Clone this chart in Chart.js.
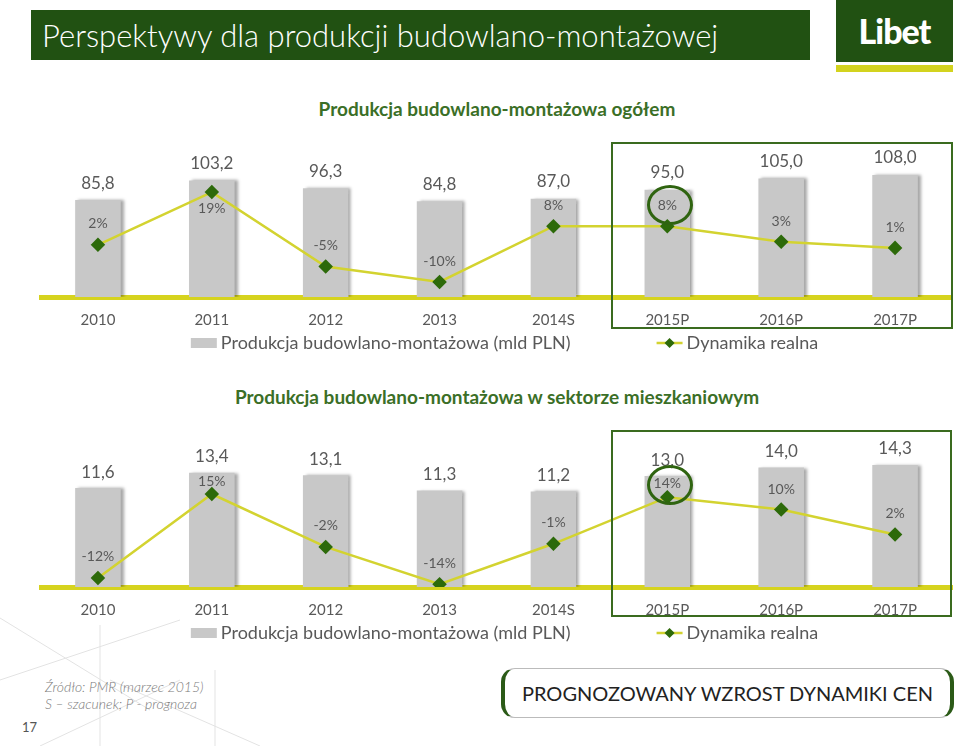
<!DOCTYPE html>
<html>
<head>
<meta charset="utf-8">
<script src="https://cdn.jsdelivr.net/npm/chart.js@4/dist/chart.umd.min.js"></script>
<style>
  body { margin: 0; width: 960px; height: 746px; position: relative; background: #fff; font-family: Lato, sans-serif; overflow: hidden; }
  .abs { position: absolute; }
  #header { left: 31px; top: 10px; width: 779px; height: 50px; background: #215112; color: #fff; font-weight: 300; font-size: 31px; line-height: 50px; padding-left: 11px; box-sizing: border-box; white-space: nowrap; }
  #logo { left: 836px; top: 0; width: 117px; height: 62px; background: #215112; color: #fff; font-weight: 900; font-size: 34px; text-align: center; line-height: 62px; letter-spacing: -1px; }
  #logoBar { left: 836px; top: 65px; width: 117px; height: 7px; background: #D3D31E; }
  .ctitle { left: 0; width: 994px; text-align: center; color: #3B6F27; font-weight: 700; font-size: 19px; }
  .wrap { left: 0; width: 960px; height: 240px; }
  .box { border: 2px solid #3A6B1F; box-sizing: border-box; }
  .ring { border: 3px solid #2F6410; border-radius: 50%; box-sizing: border-box; }
  #source { left: 45px; top: 678px; color: #7a7a7a; font-style: italic; font-weight: 300; font-size: 14px; line-height: 17px; }
  #page { left: 22px; top: 719px; color: #555; font-size: 13px; }
  #cen { left: 501px; top: 668px; width: 453px; height: 50px; border-left: 4px solid #2B5A17; border-right: 4px solid #2B5A17; border-top: 1px solid #bbb; border-bottom: 1px solid #bbb; border-radius: 14px; box-sizing: border-box; text-align: center; line-height: 48px; font-size: 20px; color: #222; white-space: nowrap; }
</style>
</head>
<body>
<svg class="abs" style="left:0;top:600px" width="320" height="146">
  <g stroke="#e3e3e3" stroke-width="1" fill="none">
    <line x1="0" y1="18" x2="150" y2="110"/>
    <line x1="0" y1="80" x2="180" y2="20"/>
    <line x1="100" y1="25" x2="100" y2="146"/>
    <line x1="40" y1="146" x2="180" y2="80"/>
    <line x1="110" y1="80" x2="260" y2="146"/>
    <line x1="215" y1="70" x2="215" y2="146"/>
  </g>
</svg>

<div id="header" class="abs">Perspektywy dla produkcji budowlano-montażowej</div>
<div id="logo" class="abs">Libet</div>
<div id="logoBar" class="abs"></div>

<div class="ctitle abs" style="top:97px">Produkcja budowlano-montażowa ogółem</div>
<div class="wrap abs" style="top:125px"><canvas id="chart1"></canvas></div>

<div class="ctitle abs" style="top:385px">Produkcja budowlano-montażowa w sektorze mieszkaniowym</div>
<div class="wrap abs" style="top:415px"><canvas id="chart2"></canvas></div>

<div class="box abs" style="left:611px;top:142px;width:342px;height:187px"></div>
<div class="ring abs" style="left:647px;top:185px;width:46px;height:40px"></div>
<div class="box abs" style="left:611px;top:430px;width:341px;height:187px"></div>
<div class="ring abs" style="left:647px;top:465px;width:46px;height:40px"></div>

<div id="source" class="abs">Źródło: PMR (marzec 2015)<br>S – szacunek; P - prognoza</div>
<div id="page" class="abs">17</div>
<div id="cen" class="abs">PROGNOZOWANY WZROST DYNAMIKI CEN</div>

<script>
// Categories (years; S = estimate, P = forecast)
const years = ['2010', '2011', '2012', '2013', '2014S', '2015P', '2016P', '2017P'];

// Total construction output (bn PLN) and its real growth (%)
const totalProduction = [85.8, 103.2, 96.3, 84.8, 87.0, 95.0, 105.0, 108.0];
const totalDynamics = [2, 19, -5, -10, 8, 8, 3, 1];

// Residential construction output (bn PLN) and its real growth (%)
const residentialProduction = [11.6, 13.4, 13.1, 11.3, 11.2, 13.0, 14.0, 14.3];
const residentialDynamics = [-12, 15, -2, -14, -1, 14, 10, 2];

const barLabel = 'Produkcja budowlano-montażowa (mld PLN)';
const lineLabel = 'Dynamika realna';

const GRAY_TEXT = '#595959';
const BAR_COLOR = '#C8C8C8';
const LINE_COLOR = '#D3D330';
const MARKER_COLOR = '#2D6A0A';
const AXIS_COLOR = '#D6D31E';

// Soft shadow on the right side of bars
const barShadow = {
  id: 'barShadow',
  beforeDatasetDraw(chart, args) {
    if (args.meta.type !== 'bar') return;
    const ctx = chart.ctx;
    ctx.save();
    ctx.shadowColor = 'rgba(0,0,0,0.35)';
    ctx.shadowOffsetX = 3;
    ctx.shadowOffsetY = 0;
    ctx.shadowBlur = 3;
  },
  afterDatasetDraw(chart, args) {
    if (args.meta.type !== 'bar') return;
    chart.ctx.restore();
  }
};

// Value labels above bars and next to line points
const valueLabels = {
  id: 'valueLabels',
  afterDatasetsDraw(chart) {
    const ctx = chart.ctx;
    ctx.save();
    ctx.textAlign = 'center';
    ctx.textBaseline = 'middle';
    ctx.fillStyle = GRAY_TEXT;
    chart.data.datasets.forEach((ds, i) => {
      const meta = chart.getDatasetMeta(i);
      ctx.font = ds.labelFont;
      meta.data.forEach((el, j) => {
        const off = Array.isArray(ds.labelOffset) ? ds.labelOffset[j] : ds.labelOffset;
        ctx.fillText(ds.labelFormat(ds.data[j]), el.x, el.y + off);
      });
    });
    ctx.restore();
  }
};

// Legend row drawn under the axis labels
const slideLegend = {
  id: 'slideLegend',
  afterDraw(chart, args, opts) {
    const ctx = chart.ctx;
    const area = chart.chartArea;
    const y = area.bottom + opts.offsetY;
    ctx.save();
    ctx.font = opts.fontSize + 'px Lato';
    ctx.textBaseline = 'middle';
    ctx.fillStyle = GRAY_TEXT;
    const w1 = ctx.measureText(barLabel).width;
    const w2 = ctx.measureText(lineLabel).width;
    const total = 30 + w1 + opts.gap + 30 + w2;
    let x = (area.left + area.right) / 2 + opts.shift - total / 2;
    ctx.fillStyle = BAR_COLOR;
    ctx.fillRect(x, y - 5, 26, 10);
    ctx.fillStyle = GRAY_TEXT;
    ctx.fillText(barLabel, x + 30, y);
    x += 30 + w1 + opts.gap;
    ctx.strokeStyle = LINE_COLOR;
    ctx.lineWidth = 2.5;
    ctx.beginPath();
    ctx.moveTo(x, y);
    ctx.lineTo(x + 26, y);
    ctx.stroke();
    ctx.fillStyle = MARKER_COLOR;
    ctx.beginPath();
    ctx.moveTo(x + 13, y - 5);
    ctx.lineTo(x + 18, y);
    ctx.lineTo(x + 13, y + 5);
    ctx.lineTo(x + 8, y);
    ctx.closePath();
    ctx.fill();
    ctx.fillStyle = GRAY_TEXT;
    ctx.fillText(lineLabel, x + 30, y);
    ctx.restore();
  }
};

const fmtValue = v => v.toFixed(1).replace('.', ',');
const fmtPct = v => v + '%';

function makeChart(id, bars, dyn, yMax, y2Min, y2Max, pctOffsets, barOffset) {
  return new Chart(document.getElementById(id), {
    data: {
      labels: years,
      datasets: [
        {
          type: 'line',
          label: lineLabel,
          data: dyn,
          yAxisID: 'y2',
          order: 1,
          borderColor: LINE_COLOR,
          borderWidth: 2.5,
          pointStyle: 'rectRot',
          pointRadius: 5.5,
          pointBackgroundColor: MARKER_COLOR,
          pointBorderColor: MARKER_COLOR,
          tension: 0,
          labelFont: '14px Lato',
          labelOffset: pctOffsets,
          labelFormat: fmtPct
        },
        {
          type: 'bar',
          label: barLabel,
          data: bars,
          yAxisID: 'y',
          order: 2,
          backgroundColor: BAR_COLOR,
          barPercentage: 0.4,
          categoryPercentage: 1,
          labelFont: '17px Lato',
          labelOffset: barOffset,
          labelFormat: fmtValue
        }
      ]
    },
    options: {
      responsive: true,
      maintainAspectRatio: false,
      animation: false,
      layout: { padding: { left: 41, right: 5, top: 15, bottom: 8 } },
      plugins: {
        legend: { display: false },
        tooltip: { enabled: false },
        slideLegend: { offsetY: 46, fontSize: 18, gap: 86, shift: 8 }
      },
      scales: {
        x: {
          grid: { display: true, drawOnChartArea: false, drawTicks: false, color: 'rgba(0,0,0,0)' },
          border: { display: true, color: AXIS_COLOR, width: 5 },
          ticks: { color: GRAY_TEXT, font: { family: 'Lato', size: 15 }, padding: 14 },
          afterFit(scale) { scale.height = 60; }
        },
        y: { display: false, min: 0, max: yMax },
        y2: { display: false, min: y2Min, max: y2Max }
      }
    },
    plugins: [barShadow, valueLabels, slideLegend]
  });
}

makeChart('chart1', totalProduction, totalDynamics, 139, -14.84, 35.8,
  [-21, 16, -21, -21, -21, -21, -20, -20], -17);
makeChart('chart2', residentialProduction, residentialDynamics, 18.4, -14.9, 35.6,
  [-21, -13, -21, -21, -21, -14, -20, -21], -16);
</script>
</body>
</html>
